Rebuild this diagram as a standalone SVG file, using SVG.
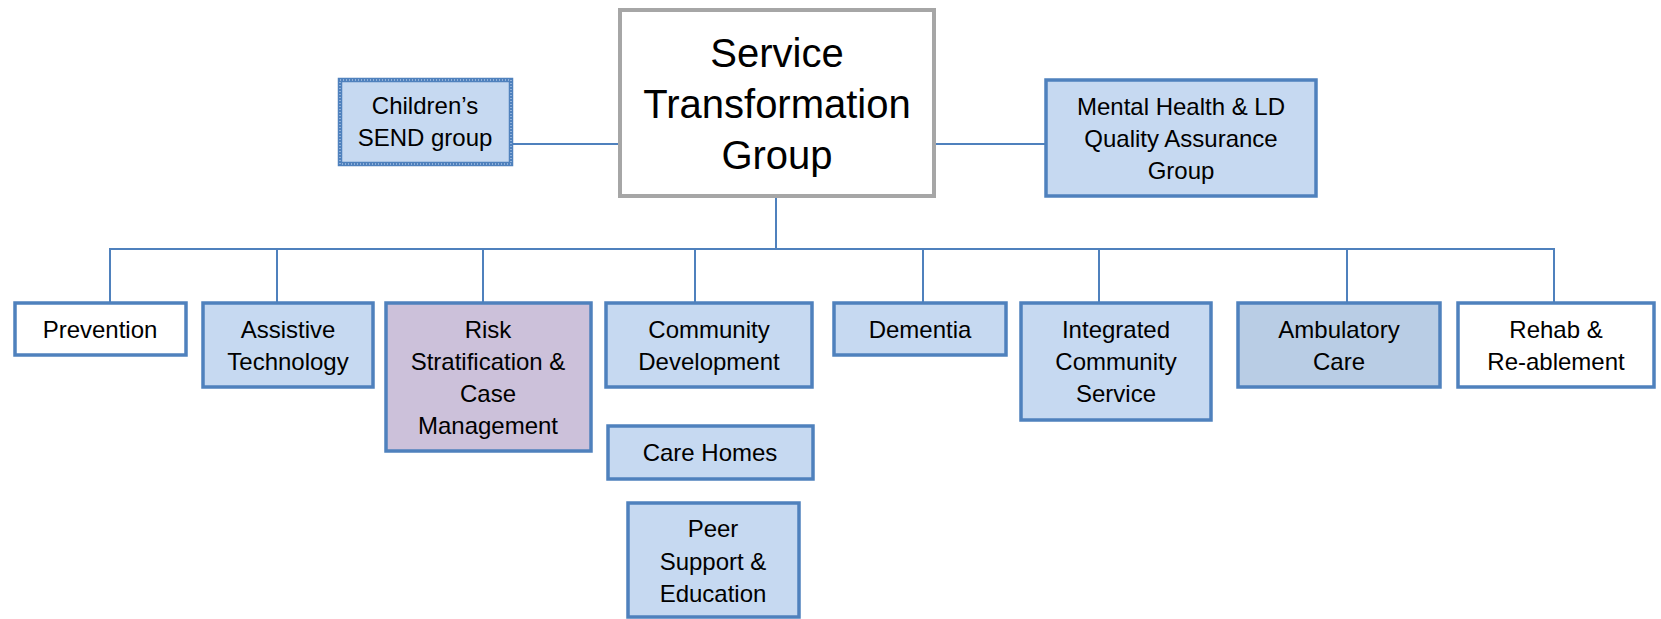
<svg xmlns="http://www.w3.org/2000/svg" width="1661" height="619" viewBox="0 0 1661 619">
<style>
  .bg{fill:#ffffff}
  .box{stroke:#4f81bd;stroke-width:3.5}
  .blue{fill:#c6d9f1}
  .amb{fill:#b9cde5}
  .purple{fill:#ccc1da}
  .white{fill:#ffffff}
  .send{fill:#c6d9f1;stroke:#4f81bd;stroke-width:4.5}
  .sendtex{fill:none;stroke:#8fb0da;stroke-width:2;stroke-dasharray:1 2}
  .main{fill:#ffffff;stroke:#a6a6a6;stroke-width:4}
  .conn{stroke:#4f81bd;stroke-width:2;fill:none}
  text{font-family:"Liberation Sans",Arial,sans-serif;font-size:24px;fill:#000000;text-anchor:middle}
  .title{font-size:40px}
</style>
<rect class="bg" x="0" y="0" width="1661" height="619"/>
<g id="connectors">
  <line class="conn" x1="510" y1="144" x2="620" y2="144"/>
  <line class="conn" x1="934" y1="144" x2="1046" y2="144"/>
  <line class="conn" x1="776" y1="196" x2="776" y2="249"/>
  <line class="conn" x1="110" y1="249" x2="1554" y2="249"/>
  <line class="conn" x1="110" y1="248" x2="110" y2="303"/>
  <line class="conn" x1="277" y1="249" x2="277" y2="303"/>
  <line class="conn" x1="483" y1="249" x2="483" y2="303"/>
  <line class="conn" x1="695" y1="249" x2="695" y2="303"/>
  <line class="conn" x1="923" y1="249" x2="923" y2="303"/>
  <line class="conn" x1="1099" y1="249" x2="1099" y2="303"/>
  <line class="conn" x1="1347" y1="249" x2="1347" y2="303"/>
  <line class="conn" x1="1554" y1="248" x2="1554" y2="303"/>
</g>
<g id="service-transformation-group">
  <rect class="main" x="620" y="10" width="314" height="186"/>
  <text class="title" x="777" y="67">Service</text>
  <text class="title" x="777" y="118">Transformation</text>
  <text class="title" x="777" y="169">Group</text>
</g>
<g id="childrens-send">
  <rect class="send" x="340" y="80" width="171" height="84"/>
  <rect class="sendtex" x="340" y="80" width="171" height="84"/>
  <text x="425" y="114">Children’s</text>
  <text x="425" y="146">SEND group</text>
</g>
<g id="mental-health">
  <rect class="box blue" x="1046" y="80" width="270" height="116"/>
  <text x="1181" y="115">Mental Health &amp; LD</text>
  <text x="1181" y="147">Quality Assurance</text>
  <text x="1181" y="179">Group</text>
</g>
<g id="prevention">
  <rect class="box white" x="15" y="303" width="171" height="52"/>
  <text x="100" y="337.5">Prevention</text>
</g>
<g id="assistive-technology">
  <rect class="box blue" x="203" y="303" width="170" height="84"/>
  <text x="288" y="337.5">Assistive</text>
  <text x="288" y="369.5">Technology</text>
</g>
<g id="risk-stratification">
  <rect class="box purple" x="386" y="303" width="205" height="148"/>
  <text x="488" y="337.5">Risk</text>
  <text x="488" y="369.5">Stratification &amp;</text>
  <text x="488" y="401.5">Case</text>
  <text x="488" y="433.5">Management</text>
</g>
<g id="community-development">
  <rect class="box blue" x="606" y="303" width="206" height="84"/>
  <text x="709" y="337.5">Community</text>
  <text x="709" y="369.5">Development</text>
</g>
<g id="care-homes">
  <rect class="box blue" x="608" y="426" width="205" height="53"/>
  <text x="710" y="461">Care Homes</text>
</g>
<g id="peer-support">
  <rect class="box blue" x="628" y="503" width="171" height="114"/>
  <text x="713" y="537">Peer</text>
  <text x="713" y="569.5">Support &amp;</text>
  <text x="713" y="602">Education</text>
</g>
<g id="dementia">
  <rect class="box blue" x="834" y="303" width="172" height="52"/>
  <text x="920" y="337.5">Dementia</text>
</g>
<g id="integrated-community-service">
  <rect class="box blue" x="1021" y="303" width="190" height="117"/>
  <text x="1116" y="337.5">Integrated</text>
  <text x="1116" y="369.5">Community</text>
  <text x="1116" y="401.5">Service</text>
</g>
<g id="ambulatory-care">
  <rect class="box amb" x="1238" y="303" width="202" height="84"/>
  <text x="1339" y="337.5">Ambulatory</text>
  <text x="1339" y="369.5">Care</text>
</g>
<g id="rehab">
  <rect class="box white" x="1458" y="303" width="196" height="84"/>
  <text x="1556" y="337.5">Rehab &amp;</text>
  <text x="1556" y="369.5">Re-ablement</text>
</g>
</svg>
